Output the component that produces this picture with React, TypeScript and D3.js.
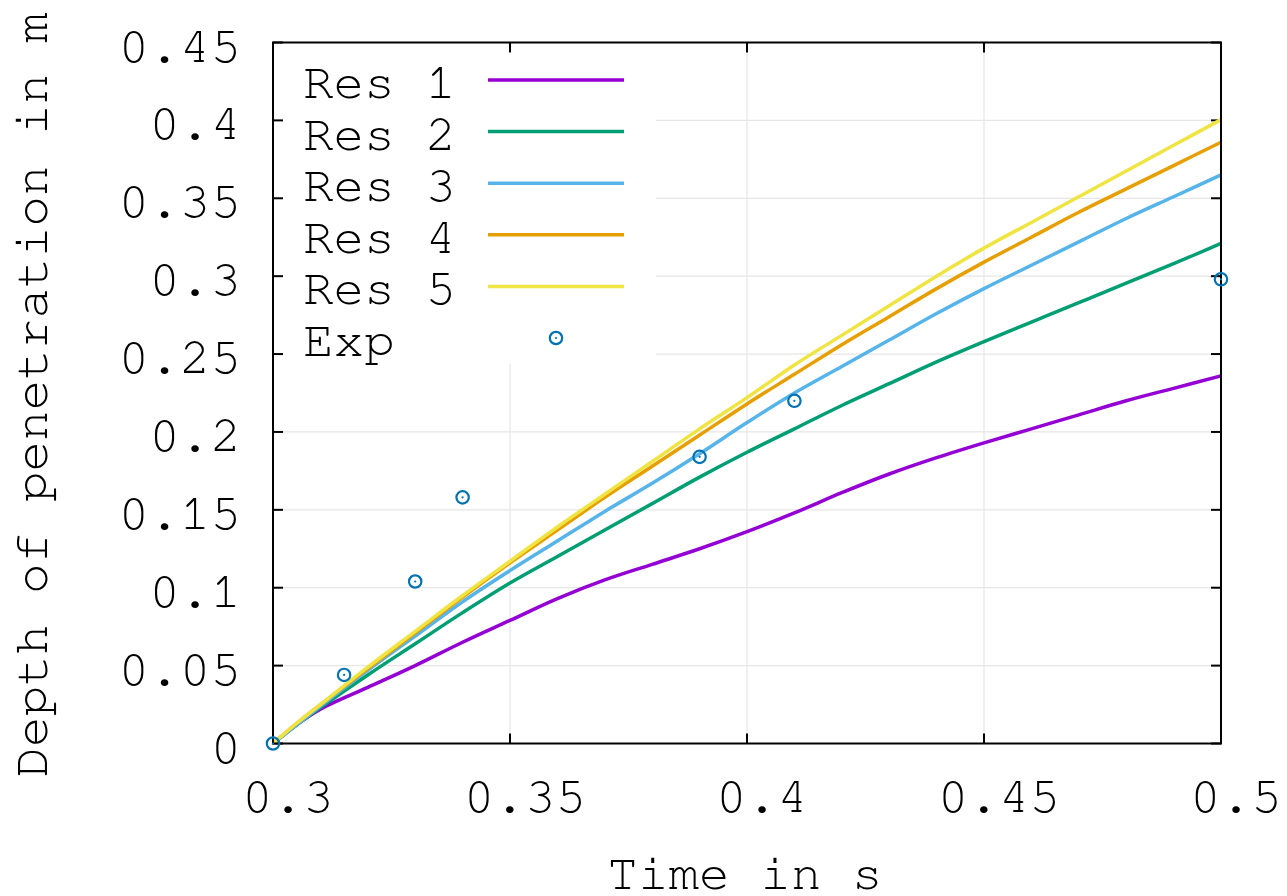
import React from "react";
import * as d3 from "d3";

const times = [0.3, 0.305, 0.31, 0.32, 0.33, 0.34, 0.35, 0.36, 0.37, 0.38, 0.39, 0.4, 0.41, 0.42, 0.43, 0.44, 0.45, 0.46, 0.47, 0.48, 0.49, 0.5];

const res1 = [0, 0.012, 0.022, 0.036, 0.05, 0.065, 0.079, 0.093, 0.105, 0.115, 0.125, 0.136, 0.148, 0.161, 0.173, 0.1835, 0.193, 0.202, 0.211, 0.22, 0.228, 0.236];
const res2 = [0, 0.012, 0.023, 0.044, 0.064, 0.084, 0.103, 0.12, 0.137, 0.154, 0.171, 0.187, 0.202, 0.217, 0.231, 0.245, 0.258, 0.2705, 0.283, 0.2955, 0.308, 0.321];
const res3 = [0, 0.012, 0.024, 0.047, 0.069, 0.091, 0.111, 0.13, 0.149, 0.167, 0.186, 0.206, 0.225, 0.242, 0.259, 0.276, 0.292, 0.307, 0.322, 0.337, 0.351, 0.365];
const res4 = [0, 0.013, 0.025, 0.048, 0.071, 0.094, 0.116, 0.137, 0.158, 0.178, 0.198, 0.218, 0.237, 0.256, 0.274, 0.292, 0.309, 0.325, 0.341, 0.356, 0.371, 0.386];
const res5 = [0, 0.013, 0.025, 0.049, 0.072, 0.095, 0.117, 0.139, 0.16, 0.181, 0.202, 0.222, 0.243, 0.262, 0.281, 0.3, 0.318, 0.3345, 0.351, 0.3675, 0.384, 0.4005];

const expTimes = [0.3, 0.315, 0.33, 0.34, 0.39, 0.41, 0.5];
const expDepth = [0, 0.044, 0.104, 0.158, 0.184, 0.22, 0.298];

const seriesNames = ["Res 1", "Res 2", "Res 3", "Res 4", "Res 5"];
const seriesColors = ["#9400d3", "#009e73", "#56b4e9", "#e69f00", "#f0e442"];
const expColor = "#0072b2";

const xTicks = [0.3, 0.35, 0.4, 0.45, 0.5];
const xTickLabels = ["0.3", "0.35", "0.4", "0.45", "0.5"];
const yTicks = [0, 0.05, 0.1, 0.15, 0.2, 0.25, 0.3, 0.35, 0.4, 0.45];
const yTickLabels = ["0", "0.05", "0.1", "0.15", "0.2", "0.25", "0.3", "0.35", "0.4", "0.45"];

const W = 1287;
const H = 896;
const L = 273;
const R = 1221;
const T = 42.5;
const B = 743.5;
const FONT = "'Nimbus Mono PS', 'Nimbus Mono L', FreeMono, 'Courier New', Courier, 'Liberation Mono', monospace";
const FS = 51;

export default function App() {
  const x = d3.scaleLinear().domain([0.3, 0.5]).range([L, R]);
  const y = d3.scaleLinear().domain([0, 0.45]).range([B, T]);
  const allSeries = [res1, res2, res3, res4, res5];
  const line = d3
    .line<[number, number]>()
    .x((d) => x(d[0]))
    .y((d) => y(d[1]))
    .curve(d3.curveCatmullRom.alpha(0.5));

  const gridColor = "#e6e6e6";
  const tickLen = 10;
  const lw = 3.5;

  const legendRowY = (i: number) => 80 + i * 51.6;

  return (
    <svg
      width={W}
      height={H}
      style={{ position: "absolute", left: 0, top: 0, background: "#fff" }}
      fontFamily={FONT}
    >
      <rect x={0} y={0} width={W} height={H} fill="#fff" />
      {/* grid */}
      {xTicks.slice(1, -1).map((t) => (
        <line key={"gx" + t} x1={x(t)} x2={x(t)} y1={T} y2={B} stroke={gridColor} strokeWidth={1.2} />
      ))}
      {yTicks.slice(1, -1).map((t) => (
        <line key={"gy" + t} x1={L} x2={R} y1={y(t)} y2={y(t)} stroke={gridColor} strokeWidth={1.2} />
      ))}
      {/* legend opaque box */}
      <rect x={L + 1} y={T + 1} width={655 - L} height={363 - T} fill="#fff" />
      {/* ticks */}
      {xTicks.map((t) => (
        <g key={"tx" + t}>
          <line x1={x(t)} x2={x(t)} y1={B} y2={B - tickLen} stroke="#000" strokeWidth={2} />
          <line x1={x(t)} x2={x(t)} y1={T} y2={T + tickLen} stroke="#000" strokeWidth={2} />
        </g>
      ))}
      {yTicks.map((t) => (
        <g key={"ty" + t}>
          <line x1={L} x2={L + tickLen} y1={y(t)} y2={y(t)} stroke="#000" strokeWidth={2} />
          <line x1={R} x2={R - tickLen} y1={y(t)} y2={y(t)} stroke="#000" strokeWidth={2} />
        </g>
      ))}
      {/* series lines */}
      {allSeries.map((s, i) => (
        <path
          key={"s" + i}
          d={line(times.map((t, j) => [t, s[j]] as [number, number])) || ""}
          fill="none"
          stroke={seriesColors[i]}
          strokeWidth={lw}
          strokeLinejoin="round"
        />
      ))}
      {/* border */}
      <rect x={L} y={T} width={R - L} height={B - T} fill="none" stroke="#000" strokeWidth={2} />
      {/* exp points */}
      {expTimes.map((t, i) => (
        <g key={"e" + i}>
          <circle cx={x(t)} cy={y(expDepth[i])} r={6.2} fill="none" stroke={expColor} strokeWidth={2.2} />
          <circle cx={x(t)} cy={y(expDepth[i])} r={1.1} fill={expColor} />
        </g>
      ))}
      {/* tick labels */}
      {xTicks.map((t, i) => (
        <text key={"lx" + t} x={x(t) + 15} y={812} textAnchor="middle" fontSize={FS} fill="#000">
          {xTickLabels[i]}
        </text>
      ))}
      {yTicks.map((t, i) => (
        <text key={"ly" + t} x={241} y={y(t) + 19} textAnchor="end" fontSize={FS} fill="#000">
          {yTickLabels[i]}
        </text>
      ))}
      {/* axis labels */}
      <text x={745} y={889} textAnchor="middle" fontSize={FS} fill="#000">
        Time in s
      </text>
      <text
        transform={`translate(47,${(T + B) / 2 + 2}) rotate(-90)`}
        textAnchor="middle"
        fontSize={FS}
        fill="#000"
      >
        Depth of penetration in m
      </text>
      {/* legend */}
      {seriesNames.map((n, i) => (
        <g key={"lg" + i}>
          <text x={303} y={legendRowY(i) + 18} fontSize={FS} fill="#000" style={{ whiteSpace: "pre" }}>
            {n}
          </text>
          <line x1={488} x2={624} y1={legendRowY(i)} y2={legendRowY(i)} stroke={seriesColors[i]} strokeWidth={lw} />
        </g>
      ))}
      <g>
        <text x={303} y={legendRowY(5) + 18} fontSize={FS} fill="#000">
          Exp
        </text>
        <circle cx={556} cy={legendRowY(5)} r={6.2} fill="none" stroke={expColor} strokeWidth={2.2} />
        <circle cx={556} cy={legendRowY(5)} r={1.1} fill={expColor} />
      </g>
    </svg>
  );
}
